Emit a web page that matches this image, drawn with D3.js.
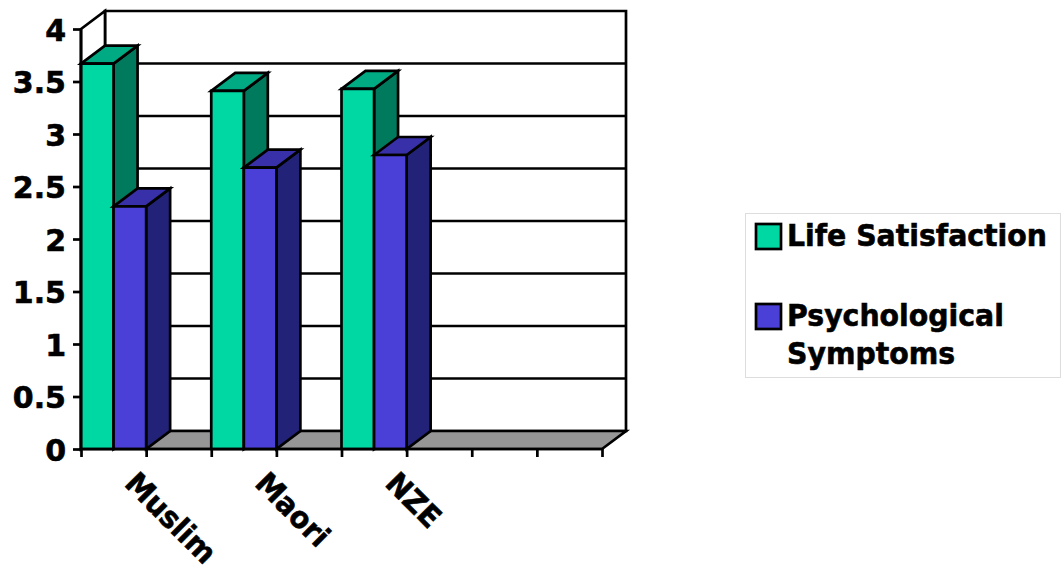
<!DOCTYPE html>
<html>
<head>
<meta charset="utf-8">
<script src="https://cdn.jsdelivr.net/npm/d3@7"></script>
<style>
  html, body { margin: 0; padding: 0; background: #fff; }
  svg { display: block; }
  text { font-family: "DejaVu Sans", sans-serif; font-weight: bold; fill: #000; stroke: #000; stroke-width: 0.6px; }
</style>
</head>
<body>
<svg id="chart" width="1061" height="572"></svg>
<script>
const categories = ['Muslim', 'Maori', 'NZE', ''];
const seriesNames = ['Life Satisfaction', 'Psychological Symptoms'];
const lifeSatisfaction = [3.67, 3.41, 3.43];
const psychSymptoms = [2.31, 2.68, 2.80];
const yTicks = [0, 0.5, 1, 1.5, 2, 2.5, 3, 3.5, 4];
const halfBands = [0, 1, 2, 3, 4, 5, 6, 7, 8];

const colors = [
    { front: '#00d8a4', top: '#00aa82', side: '#007a5c' },
    { front: '#4a40d8', top: '#3830a8', side: '#222278' }
];
const floorColor = '#969696';

const margin = { left: 81, right: 459, top: 29, bottom: 123 };
const depth = { x: 24, y: -18 };
const svg = d3.select('#chart');
const width = +svg.attr('width');
const height = +svg.attr('height');
const lineW = 2.7;
const squeeze = 0.945; // the original font is a bit narrower than DejaVu Bold

const yScale = d3.scaleLinear().domain([0, 4]).range([height - margin.bottom, margin.top]);
const xRange = [margin.left, width - margin.right];
const x0 = d3.scaleBand().domain(categories).range(xRange);
const x1 = d3.scaleBand().domain(seriesNames).range([0, x0.bandwidth() / 2]);
const xTicks = d3.scaleLinear().domain([0, 8]).range(xRange);

const line = d3.line();
function poly(parent, pts, fill) {
    parent.append('path')
        .attr('d', line(pts) + 'Z')
        .attr('fill', fill)
        .attr('stroke', '#000')
        .attr('stroke-width', lineW)
        .attr('stroke-linejoin', 'miter');
}

const y0 = yScale(0);
const yTop = yScale(4);
const [xl, xr] = xRange;

// back wall and floor
const wall = svg.append('g');
poly(wall, [[xl + depth.x, yTop + depth.y], [xr + depth.x, yTop + depth.y], [xr + depth.x, y0 + depth.y], [xl + depth.x, y0 + depth.y]], '#fff');
poly(wall, [[xl, y0], [xr, y0], [xr + depth.x, y0 + depth.y], [xl + depth.x, y0 + depth.y]], floorColor);
poly(wall, [[xl, yTop], [xl + depth.x, yTop + depth.y], [xl + depth.x, y0 + depth.y], [xl, y0]], '#fff');

wall.selectAll('.grid').data(yTicks.slice(1, -1)).enter().append('line')
    .attr('class', 'grid')
    .attr('x1', xl + depth.x).attr('x2', xr + depth.x)
    .attr('y1', d => yScale(d) + depth.y).attr('y2', d => yScale(d) + depth.y)
    .attr('stroke', '#000').attr('stroke-width', lineW);

// bars
const barData = [lifeSatisfaction, psychSymptoms];
categories.slice(0, 3).forEach((cat, i) => {
    seriesNames.forEach((name, s) => {
        const g = svg.append('g').attr('class', 'bar');
        const left = x0(cat) + x1(name);
        const right = left + x1.bandwidth();
        const top = yScale(barData[s][i]);
        const c = colors[s];
        poly(g, [[right, top], [right + depth.x, top + depth.y], [right + depth.x, y0 + depth.y], [right, y0]], c.side);
        poly(g, [[left, top], [left + depth.x, top + depth.y], [right + depth.x, top + depth.y], [right, top]], c.top);
        poly(g, [[left, top], [right, top], [right, y0], [left, y0]], c.front);
    });
});

// axes
const yAxis = d3.axisLeft(yScale).tickValues(yTicks).tickSize(8).tickPadding(7).tickFormat(d => d);
svg.append('g').attr('transform', `translate(${xl},0)`).call(yAxis)
    .call(g => {
        g.select('.domain').attr('stroke-width', lineW).attr('d', `M0,${yTop}V${y0}`);
        g.selectAll('.tick line').attr('stroke-width', lineW);
        g.selectAll('.tick text').attr('y', 1.5).style('font-size', '30px').style('font-family', '"DejaVu Sans"').style('font-weight', 'bold');
    });

const xAxis = d3.axisBottom(xTicks).tickValues(halfBands).tickSize(8).tickFormat('');
svg.append('g').attr('transform', `translate(0,${y0})`).call(xAxis)
    .call(g => {
        g.select('.domain').attr('stroke-width', lineW).attr('d', `M${xl},0H${xr}`);
        g.selectAll('.tick line').attr('stroke-width', lineW);
    });

// rotated category labels
svg.selectAll('.cat').data(categories.slice(0, 3)).enter().append('text')
    .attr('class', 'cat')
    .attr('text-anchor', 'start')
    .style('font-size', '30px')
    .attr('transform', d => `translate(${x0(d) + x0.bandwidth() / 2 - 23},485) rotate(45) scale(${squeeze},1)`)
    .text(d => d);

// legend
const legend = svg.append('g');
legend.append('rect').attr('x', 745.5).attr('y', 213.5).attr('width', 315).attr('height', 164)
    .attr('fill', '#fff').attr('stroke', '#dddddd').attr('stroke-width', 1);
const legendRows = [
    { lines: ['Life Satisfaction'], y: 224 },
    { lines: ['Psychological', 'Symptoms'], y: 304 }
];
legendRows.forEach((row, i) => {
    legend.append('rect').attr('x', 756).attr('y', row.y).attr('width', 25).attr('height', 25)
        .attr('fill', colors[i].front).attr('stroke', '#000').attr('stroke-width', lineW);
    row.lines.forEach((t, j) => {
        legend.append('text')
            .attr('transform', `translate(787,${row.y + 22 + j * 38}) scale(${squeeze},1)`)
            .style('font-size', '30px').text(t);
    });
});
</script>
</body>
</html>
